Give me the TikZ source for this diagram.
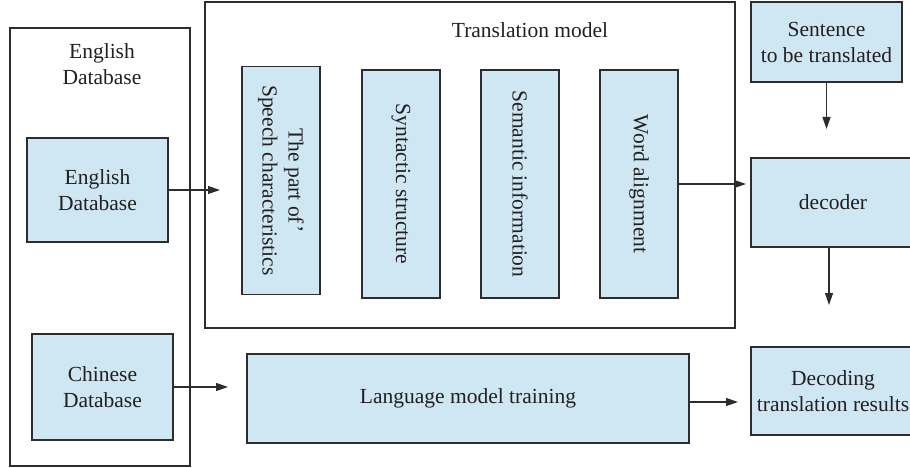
\documentclass[tikz,border=0pt]{standalone}
\usepackage{fontspec}
\setmainfont{Liberation Serif}
\usetikzlibrary{arrows.meta}
\definecolor{boxfill}{RGB}{207,230,243}
\definecolor{edge}{RGB}{45,45,45}
\definecolor{ink}{RGB}{35,31,32}
\begin{document}
\begin{tikzpicture}[x=1pt,y=-1pt,
  every node/.style={font=\fontsize{21.5}{26}\selectfont, text=ink},
  bluebox/.style={draw=edge, line width=1.3pt, fill=boxfill, inner sep=0pt, align=center},
  frame/.style={draw=edge, line width=1.3pt, fill=none, inner sep=0pt},
  vbox/.style={bluebox, rotate=-90, minimum width=228pt, minimum height=78pt},
  link/.style={draw=edge, line width=1.2pt, -{Triangle[length=12pt,width=8pt]}}]
\useasboundingbox (0,0) rectangle (910,468);
\clip (0,0) rectangle (910,468);

% outer database frame with its two sources
\node[frame, minimum width=180pt, minimum height=438pt] (dbframe) at (100,247) {};
\node[align=center] (dbtitle) at (102,64) {English\\Database};
\node[bluebox, minimum width=141pt, minimum height=104pt] (engdb) at (97.5,190) {English\\Database};
\node[bluebox, minimum width=141pt, minimum height=106pt] (chndb) at (102.5,387) {Chinese\\Database};

% translation model with its four components
\node[frame, minimum width=530pt, minimum height=326pt] (tmodel) at (470,165) {};
\node (tmtitle) at (530,30) {Translation model};
\node[vbox] (pos) at (281,180.5) {The part of'\\Speech characteristics};
\node[vbox] (syn) at (401,184) {Syntactic structure};
\node[vbox] (sem) at (520,184) {Semantic information};
\node[vbox] (align) at (639,184) {Word alignment};

% right column
\node[bluebox, minimum width=151pt, minimum height=80pt] (sent) at (826.5,42) {Sentence\\to be translated};
\node[bluebox, minimum width=164pt, minimum height=89pt] (dec) at (833,202.5) {decoder};
\node[bluebox, minimum width=164pt, minimum height=88pt] (res) at (833,391) {Decoding\\translation results};

% language model
\node[bluebox, minimum width=442pt, minimum height=89pt] (lang) at (468,398.5) {Language model training};

% arrow tips
\coordinate (engtip) at (220,190);
\coordinate (chntip) at (228,387);
\coordinate (aligntip) at (746,184);
\coordinate (senttip) at (826.5,129);
\coordinate (dectip) at (829,305);
\coordinate (langtip) at (738,402);

\draw[link] (engdb.east) -- (engtip);
\draw[link] (chndb.east) -- (chntip);
\draw[link] (align.north) -- (aligntip);
\draw[link] (sent.south) -- (senttip);
\draw[link] ([xshift=-4pt]dec.south) -- (dectip);
\draw[link] ([yshift=-3.5pt]lang.east) -- (langtip);
\end{tikzpicture}
\end{document}
